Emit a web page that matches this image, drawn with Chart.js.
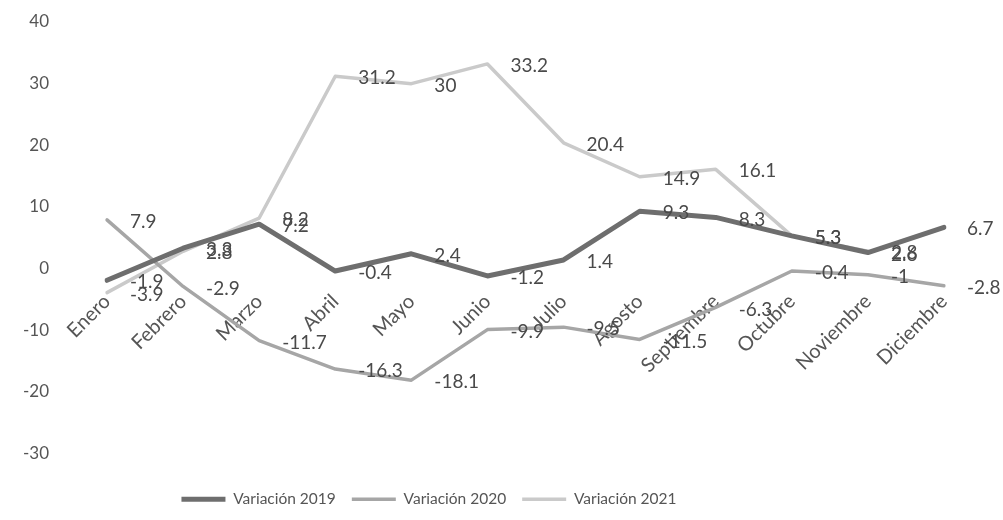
<!DOCTYPE html>
<html>
<head>
<meta charset="utf-8">
<style>
  html, body { margin: 0; padding: 0; background: #fff; }
  canvas { display: block; }
</style>
<script src="https://cdn.jsdelivr.net/npm/chart.js"></script>
</head>
<body>
<canvas id="chart" width="1003" height="520"></canvas>
<script>
const months = ['Enero', 'Febrero', 'Marzo', 'Abril', 'Mayo', 'Junio', 'Julio',
  'Agosto', 'Septiembre', 'Octubre', 'Noviembre', 'Diciembre'];

const var2019 = [-1.9, 3.3, 7.2, -0.4, 2.4, -1.2, 1.4, 9.3, 8.3, 5.3, 2.6, 6.7];
const var2020 = [7.9, -2.9, -11.7, -16.3, -18.1, -9.9, -9.5, -11.5, -6.3, -0.4, -1, -2.8];
const var2021 = [-3.9, 2.8, 8.2, 31.2, 30, 33.2, 20.4, 14.9, 16.1, 5.3, 2.8, null];

const yMin = -30;
const yMax = 40;
const yStep = 10;

// data labels to the right of each point (like Excel "Right")
const pointLabels = {
  id: 'pointLabels',
  afterDatasetsDraw(chart) {
    const ctx = chart.ctx;
    ctx.save();
    ctx.font = '19px Lato';
    ctx.fillStyle = '#4a4a4a';
    ctx.textAlign = 'left';
    ctx.textBaseline = 'middle';
    chart.data.datasets.forEach((ds, i) => {
      const meta = chart.getDatasetMeta(i);
      meta.data.forEach((pt, j) => {
        const v = ds.data[j];
        if (v === null || v === undefined) return;
        ctx.fillText(String(v), pt.x + 23, pt.y + 2);
      });
    });
    ctx.restore();
  }
};

// the legend in the original sits a bit left of centre
const legendShift = {
  id: 'legendShift',
  afterLayout(chart) {
    chart.legend.left -= 43;
    chart.legend.right -= 43;
  }
};

Chart.defaults.font.family = 'Lato';
Chart.defaults.font.size = 15;
Chart.defaults.color = '#555';

const ctx = document.getElementById('chart').getContext('2d');

new Chart(ctx, {
  type: 'line',
  data: {
    labels: months,
    datasets: [
      {
        label: 'Variación 2019',
        data: var2019,
        borderColor: '#6e6e6e',
        backgroundColor: '#6e6e6e',
        borderWidth: 5,
      },
      {
        label: 'Variación 2020',
        data: var2020,
        borderColor: '#a6a6a6',
        backgroundColor: '#a6a6a6',
        borderWidth: 3.5,
      },
      {
        label: 'Variación 2021',
        data: var2021,
        borderColor: '#cacaca',
        backgroundColor: '#cacaca',
        borderWidth: 3.5,
      }
    ]
  },
  options: {
    responsive: false,
    animation: false,
    devicePixelRatio: 1,
    layout: {
      padding: { top: 22, right: 59, bottom: 3, left: 0 }
    },
    elements: {
      point: { radius: 0, hoverRadius: 0 },
      line: { tension: 0, borderCapStyle: 'round', borderJoinStyle: 'round' }
    },
    scales: {
      x: {
        position: { y: 0 },
        offset: false,
        grid: { display: false, drawTicks: false },
        border: { display: false },
        ticks: {
          autoSkip: false,
          minRotation: 45,
          maxRotation: 45,
          padding: 21,
          labelOffset: 0,
          color: '#555',
          font: { size: 20 }
        },
        afterFit(scale) {
          scale.paddingLeft = 0;
          scale.paddingRight = 0;
        }
      },
      y: {
        min: yMin,
        max: yMax,
        grid: { display: false, drawTicks: false },
        border: { display: false },
        ticks: {
          stepSize: yStep,
          padding: 58,
          color: '#555',
          font: { size: 17 }
        },
        afterFit(scale) {
          scale.width = 107;
          scale.paddingTop = 0;
          scale.paddingBottom = 0;
        }
      }
    },
    plugins: {
      tooltip: { enabled: false },
      legend: {
        position: 'bottom',
        title: {
          display: true,
          text: '',
          padding: { top: 7.6, bottom: 0 },
          font: { size: 12, lineHeight: 1.2 }
        },
        labels: {
          usePointStyle: true,
          pointStyle: 'line',
          pointStyleWidth: 44,
          padding: 16,
          color: '#555',
          font: { size: 15.5 }
        }
      }
    }
  },
  plugins: [pointLabels, legendShift]
});
</script>
</body>
</html>
